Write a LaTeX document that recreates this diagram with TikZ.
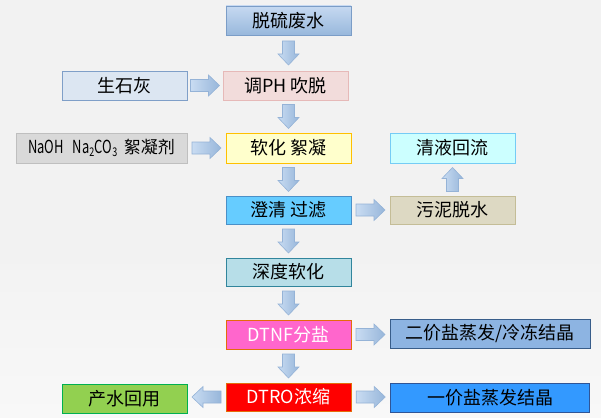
\documentclass[tikz,border=0pt]{standalone}
\usepackage{fontspec}
\setmainfont{Noto Sans CJK SC}
\usetikzlibrary{calc}
\definecolor{bg}{HTML}{F2F2F2}
\definecolor{bgb}{HTML}{F8F8F8}
\definecolor{arrA}{HTML}{C9DCF2}
\definecolor{arrB}{HTML}{97B6DA}
\definecolor{arrD}{HTML}{95B3D7}
\definecolor{topA}{HTML}{C6D9F1}
\definecolor{topB}{HTML}{98B8DC}
\definecolor{topD}{HTML}{7B9DC7}
\definecolor{limeF}{HTML}{DCE6F2}
\definecolor{limeD}{HTML}{7F9FC8}
\definecolor{phF}{HTML}{F2DCDB}
\definecolor{phD}{HTML}{E6B9B8}
\definecolor{softF}{HTML}{FFFFCC}
\definecolor{softD}{HTML}{FFC000}
\definecolor{naohF}{HTML}{D9D9D9}
\definecolor{naohD}{HTML}{BFBFBF}
\definecolor{clearF}{HTML}{CCFFFF}
\definecolor{clearD}{HTML}{75CCF5}
\definecolor{filtF}{HTML}{66CCFF}
\definecolor{filtD}{HTML}{4A90C8}
\definecolor{sludF}{HTML}{DDD9C3}
\definecolor{sludD}{HTML}{C4BD97}
\definecolor{deepF}{HTML}{B7DEE8}
\definecolor{deepD}{HTML}{31859C}
\definecolor{dtnfF}{HTML}{FF66CC}
\definecolor{orgD}{HTML}{E46C0A}
\definecolor{divtF}{HTML}{8DB4E2}
\definecolor{divtD}{HTML}{385D8A}
\definecolor{dtroF}{HTML}{FF0000}
\definecolor{prodF}{HTML}{92D050}
\definecolor{prodD}{HTML}{00B050}
\definecolor{divoF}{HTML}{3399FF}
\definecolor{divoD}{HTML}{2F5597}
\tikzset{
  box/.style={draw, line width=0.9pt, minimum width=125pt, inner sep=0pt, outer sep=0pt,
     font=\fontsize{18}{20}\selectfont},
  arrowstyle/.style={draw=arrD, line width=0.6pt, left color=arrA, right color=arrB},
  vbarrow/.pic={\path[arrowstyle] (-12,-6) -- (1,-6) -- (1,-10.5) -- (12,0) -- (1,10.5) -- (1,6) -- (-12,6) -- cycle;},
  hbarrow/.pic={\path[arrowstyle] (-14.5,-6) -- (3.5,-6) -- (3.5,-10.5) -- (14.5,0) -- (3.5,10.5) -- (3.5,6) -- (-14.5,6) -- cycle;},
}
\newcommand{\latn}[1]{\scalebox{0.72}[1]{\fontsize{18}{20}\selectfont #1}}
\newcommand{\latsub}[1]{$_{\scalebox{0.75}[1]{\fontsize{12}{12}\selectfont #1}}$}
\begin{document}
\begin{tikzpicture}[x=1pt,y=-1pt]
\fill[bg] (0,0) rectangle (601,251);
\shade[top color=bg, bottom color=bgb] (0,250) rectangle (601,417);
\useasboundingbox (0,0) rectangle (601,417);

% boxes
\node[box, draw=topD, top color=topA, bottom color=topB, minimum height=29pt] (top) at (288.5,20.5) {脱硫废水};
\node[box, draw=limeD, fill=limeF, minimum height=29pt] (lime) at (124.5,85.5) {生石灰};
\node[box, draw=phD, fill=phF, minimum height=29pt] (ph) at (285.5,85.5) {调PH 吹脱};
\node[box, draw=softD, fill=softF, minimum height=30pt] (soft) at (288.5,148) {软化 絮凝};
\node[box, draw=naohD, fill=naohF, minimum height=30pt, minimum width=171pt, font=\fontsize{17}{19}\selectfont] (naoh) at (101.5,148)
  {\latn{NaOH}\hspace{9pt}\latn{Na}\latsub{2}\latn{CO}\latsub{3}\hspace{6pt}絮凝剂};
\node[box, draw=clearD, fill=clearF, minimum height=30pt] (clear) at (452.5,148) {清液回流};
\node[box, draw=filtD, fill=filtF, minimum height=28pt] (filt) at (288.5,210) {澄清 过滤};
\node[box, draw=sludD, fill=sludF, minimum height=28pt] (sludge) at (452.5,210) {污泥脱水};
\node[box, draw=deepD, fill=deepF, minimum height=28pt] (deep) at (288.5,272) {深度软化};
\node[box, draw=orgD, fill=dtnfF, minimum height=29pt, text=white] (dtnf) at (288.5,334.5) {DTNF分盐};
\node[box, draw=divtD, fill=divtF, minimum height=29pt, minimum width=200pt] (div2) at (490,333.5) {二价盐蒸发/冷冻结晶};
\node[box, draw=orgD, fill=dtroF, minimum height=28pt, text=white] (dtro) at (288.5,397) {DTRO浓缩};
\node[box, draw=prodD, fill=prodF, minimum height=29pt] (prod) at (124.5,398.5) {产水回用};
\node[box, draw=divoD, fill=divoF, minimum height=29pt, minimum width=199pt] (div1) at (490,397.5) {一价盐蒸发结晶};

% block arrows (connectors between named boxes)
\pic[rotate=-90] at ($(top.south)!0.5!(top.south|-ph.north)$) {vbarrow};
\pic at ($(lime.east)!0.5!(ph.west)$) {hbarrow};
\pic[rotate=-90] at ($(soft.north|-ph.south)!0.5!(soft.north)$) {vbarrow};
\pic at ($(naoh.east)!0.5!(soft.west)$) {hbarrow};
\pic[rotate=-90] at ($(soft.south)!0.5!(filt.north)$) {vbarrow};
\pic at ($(filt.east)!0.5!(sludge.west)$) {hbarrow};
\pic[rotate=90] at ($(sludge.north)!0.5!(clear.south)$) {vbarrow};
\pic[rotate=-90] at ($(filt.south)!0.5!(deep.north)$) {vbarrow};
\pic[rotate=-90] at ($(deep.south)!0.5!(dtnf.north)$) {vbarrow};
\pic at ($(dtnf.east)!0.5!(dtnf.east-|div2.west)$) {hbarrow};
\pic[rotate=-90] at ($(dtnf.south)!0.5!(dtro.north)$) {vbarrow};
\pic[rotate=180] at ($(dtro.west)!0.5!(dtro.west-|prod.east)$) {hbarrow};
\pic at ($(dtro.east)!0.5!(dtro.east-|div1.west)$) {hbarrow};
\end{tikzpicture}
\end{document}
